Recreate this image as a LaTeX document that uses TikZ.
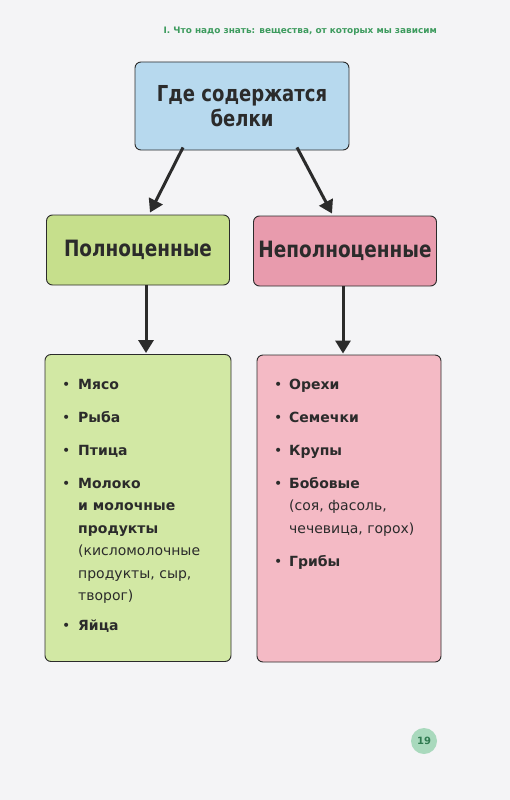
\documentclass[tikz,border=0pt]{standalone}
\usepackage{fontspec}
\setmainfont{DejaVu Sans}
\newfontfamily\headfont[FakeStretch=0.82]{DejaVu Sans}
\usetikzlibrary{arrows.meta}
\definecolor{paper}{HTML}{F4F4F6}
\definecolor{ink}{HTML}{2B2B2B}
\definecolor{headgreen}{HTML}{3D9B5E}
\definecolor{skyblue}{HTML}{B7D9EE}
\definecolor{leafgreen}{HTML}{C6DF8C}
\definecolor{palegreen}{HTML}{D2E8A4}
\definecolor{rosepink}{HTML}{E89BAD}
\definecolor{palepink}{HTML}{F4BAC5}
\definecolor{pagegreen}{HTML}{A9D9BD}
\definecolor{pageink}{HTML}{2F7A50}
\tikzset{
  box/.style={draw=ink, line width=0.9pt, rounded corners=6pt, inner sep=0pt, text=ink},
  headbox/.style={box, minimum width=183pt, minimum height=70pt, font=\headfont\bfseries\fontsize{22.5}{26}\selectfont},
  listbox/.style={box, minimum width=186pt, minimum height=307pt},
  listtext/.style={anchor=north west, inner sep=0pt, text=ink, font=\fontsize{14}{22.5}\selectfont},
  arr/.style={draw=ink, line width=3pt, -{Triangle[width=15pt,length=13pt]}}
}
\begin{document}
\begin{tikzpicture}[x=1pt,y=-1pt]
\fill[paper] (0,0) rectangle (510,800);
\useasboundingbox (0,0) rectangle (510,800);

\node[anchor=base east, inner sep=0pt, text=headgreen, font=\bfseries\fontsize{8.9}{10}\selectfont] (chapter) at (437,34) {I. Что надо знать: вещества, от которых мы зависим};

\node[box, fill=skyblue, minimum width=214pt, minimum height=88pt, align=center, font=\headfont\bfseries\fontsize{22}{25}\selectfont] (where) at (242,106) {Где содержатся\\белки};

\node[headbox, fill=leafgreen] (full) at (138,250) {Полноценные};
\node[headbox, fill=rosepink] (part) at (345,251) {Неполноценные};

\node[listbox, fill=palegreen] (fulllist) at (138,508) {};
\node[listbox, fill=palepink, minimum width=184pt] (partlist) at (349,508.5) {};

\draw[arr] ([xshift=-59pt,yshift=3pt]where.south) -- ([xshift=12pt,yshift=2pt]full.north);
\draw[arr] ([xshift=55pt,yshift=3pt]where.south) -- ([xshift=-13pt,yshift=2pt]part.north);
\draw[arr] ([xshift=8pt]full.south) -- ([xshift=8pt,yshift=1pt]fulllist.north);
\draw[arr] ([xshift=-2pt]part.south) -- ([xshift=-6pt,yshift=1pt]partlist.north);

\node[listtext] (fulltxt) at (62,373.25) {%
\begin{tabular}{@{}p{16pt}@{}l@{}}
• & \textbf{Мясо}\\[10.5pt]
• & \textbf{Рыба}\\[10.5pt]
• & \textbf{Птица}\\[10.5pt]
• & \textbf{Молоко}\\
  & \textbf{и молочные}\\
  & \textbf{продукты}\\
  & (кисломолочные\\
  & продукты, сыр,\\
  & творог)\\[7.5pt]
• & \textbf{Яйца}
\end{tabular}};

\node[listtext] (parttxt) at (274,373.25) {%
\begin{tabular}{@{}p{15pt}@{}l@{}}
• & \textbf{Орехи}\\[10.5pt]
• & \textbf{Семечки}\\[10.5pt]
• & \textbf{Крупы}\\[10.5pt]
• & \textbf{Бобовые}\\
  & (соя, фасоль,\\
  & чечевица, горох)\\[10.5pt]
• & \textbf{Грибы}
\end{tabular}};

\node[circle, fill=pagegreen, minimum size=26pt, inner sep=0pt, text=pageink, font=\bfseries\fontsize{10}{12}\selectfont] (page) at (424,741) {19};
\end{tikzpicture}
\end{document}
